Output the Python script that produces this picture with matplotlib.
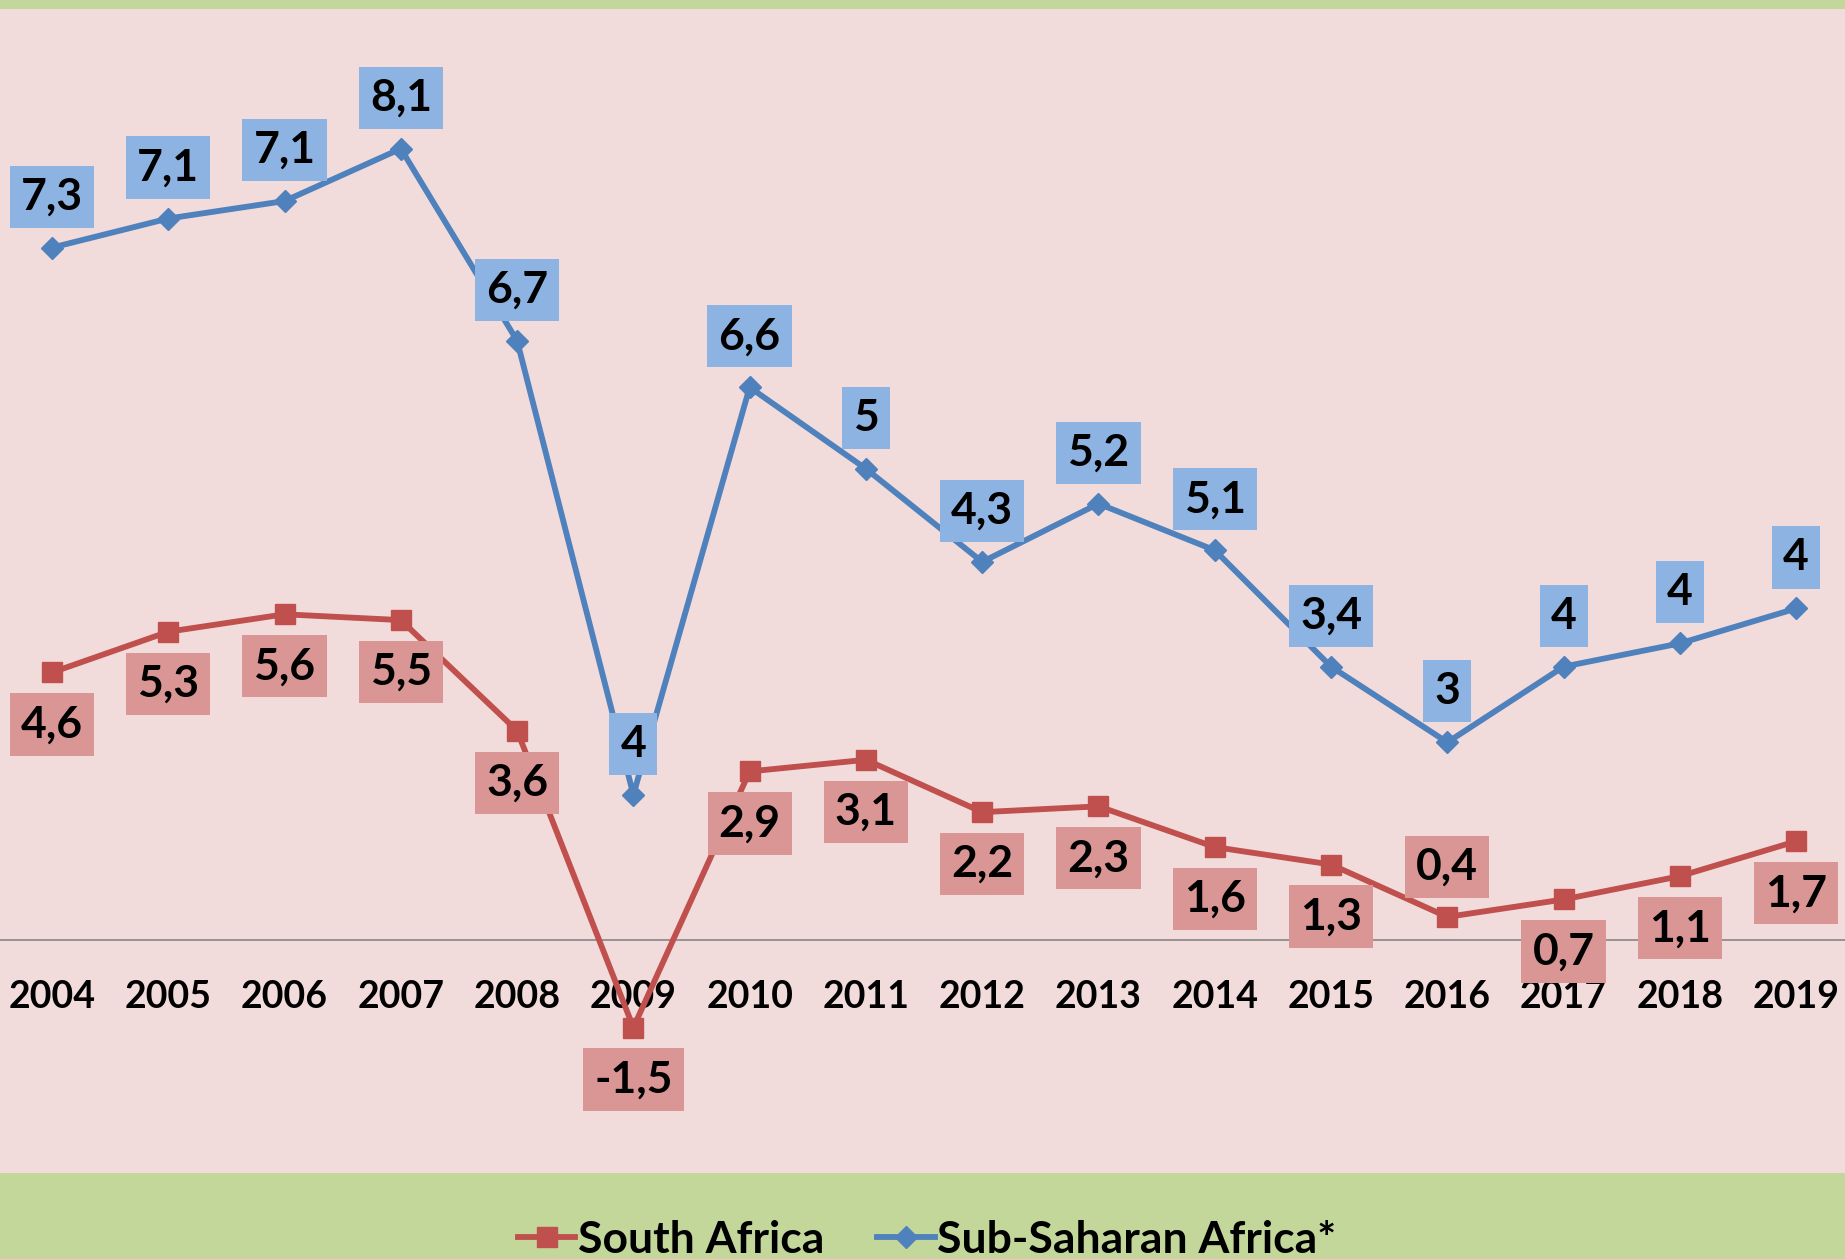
import matplotlib.pyplot as plt
from matplotlib.lines import Line2D

# Data
years = ["2004", "2005", "2006", "2007", "2008", "2009", "2010", "2011",
         "2012", "2013", "2014", "2015", "2016", "2017", "2018", "2019"]

south_africa = [4.6, 5.3, 5.6, 5.5, 3.6, -1.5, 2.9, 3.1,
                2.2, 2.3, 1.6, 1.3, 0.4, 0.7, 1.1, 1.7]

# Sub-Saharan line as drawn in the picture, and the label texts shown on it
ssa_drawn = [11.9, 12.4, 12.7, 13.6, 10.3, 2.5, 9.5, 8.1,
             6.5, 7.5, 6.7, 4.7, 3.4, 4.7, 5.1, 5.7]
ssa_labels = ["7,3", "7,1", "7,1", "8,1", "6,7", "4", "6,6", "5",
              "4,3", "5,2", "5,1", "3,4", "3", "4", "4", "4"]

sa_label_above = [False] * 12 + [True] + [False] * 3

# Colours
pink = "#F2DCDB"
green = "#C4D79B"
red = "#C0504D"
blue = "#4F81BD"
red_box = "#D99694"
blue_box = "#8DB3E2"

plt.rcParams["font.family"] = ["Lato", "DejaVu Sans"]
plt.rcParams["font.weight"] = "bold"

fig = plt.figure(figsize=(18.45, 12.59), dpi=100, facecolor=green)
ax = fig.add_axes([0, 86 / 1259, 1, (1173 - 9) / 1259])
ax.set_facecolor(pink)

x = list(range(len(years)))

ax.plot(x, south_africa, color=red, lw=4.2, marker="s", markersize=14,
        zorder=4, label="South Africa")
ax.plot(x, ssa_drawn, color=blue, lw=4.2, marker="D", markersize=11,
        zorder=4, label="Sub-Saharan Africa*")

# Data labels
for i, v in enumerate(south_africa):
    txt = f"{v:.1f}".replace(".", ",")
    dy = 50 if sa_label_above[i] else -52
    ax.annotate(txt, (i, v), xytext=(0, dy), textcoords="offset pixels",
                ha="center", va="center", fontsize=32, fontweight="bold",
                bbox=dict(boxstyle="square,pad=0.25", fc=red_box, ec="none"),
                zorder=6)

for i, v in enumerate(ssa_drawn):
    ax.annotate(ssa_labels[i], (i, v), xytext=(0, 51), textcoords="offset pixels",
                ha="center", va="center", fontsize=32, fontweight="bold",
                bbox=dict(boxstyle="square,pad=0.25", fc=blue_box, ec="none"),
                zorder=6)

ax.set_xlim(-0.447, 15.42)
ax.set_ylim(-4, 16)

for s in ["top", "left", "right"]:
    ax.spines[s].set_visible(False)
ax.spines["bottom"].set_position(("data", 0))
ax.spines["bottom"].set_color("#868686")
ax.spines["bottom"].set_linewidth(1.2)

ax.set_xticks(x)
ax.set_xticklabels(years, fontsize=27, fontweight="bold")
ax.tick_params(axis="x", length=0, pad=29)
ax.set_yticks([])

handles = [
    Line2D([], [], color=red, lw=4.2, marker="s", markersize=14),
    Line2D([], [], color=blue, lw=4.2, marker="D", markersize=11),
]
fig.legend(handles, ["South Africa", "Sub-Saharan Africa*"], loc="center",
           bbox_to_anchor=(0.5025, 0.0151), ncol=2, frameon=False,
           prop={"size": 32, "weight": "bold"}, handlelength=1.3,
           handletextpad=0.05, columnspacing=1.2)

fig.savefig("out.png", dpi=100, facecolor=green)
